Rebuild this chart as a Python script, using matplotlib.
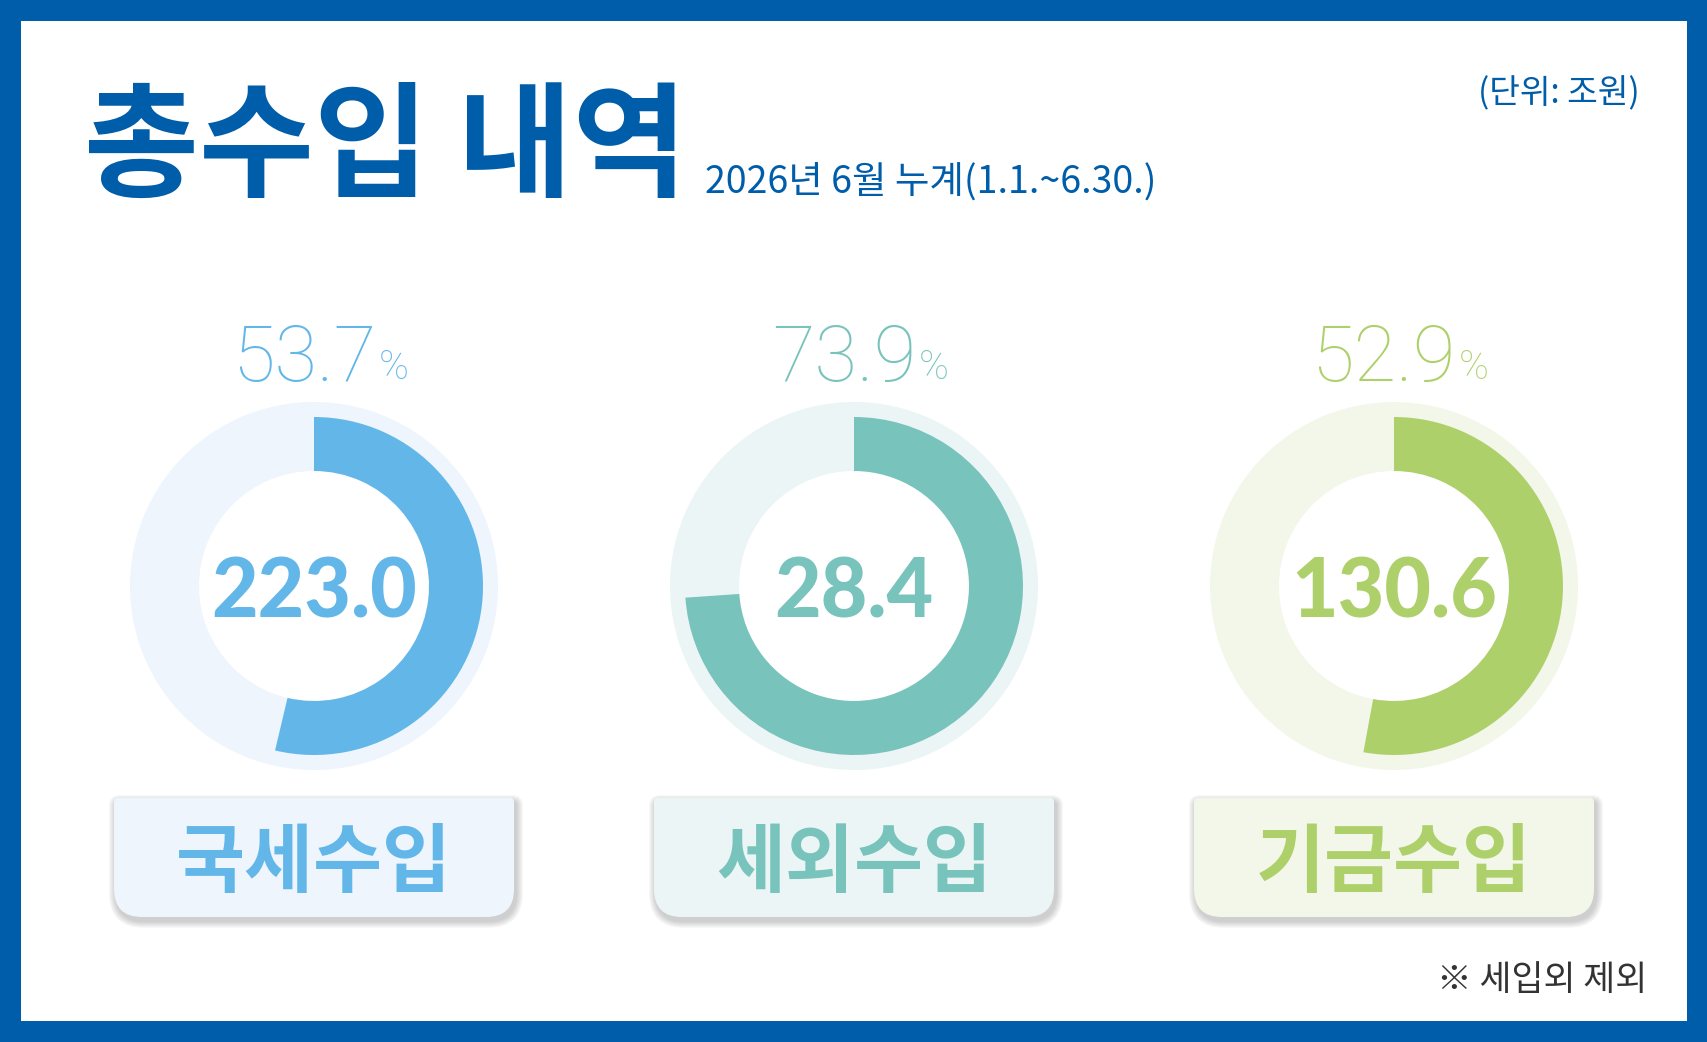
import matplotlib
matplotlib.use("Agg")
import matplotlib.pyplot as plt
from matplotlib.patches import Wedge, Rectangle, PathPatch
from matplotlib.path import Path

plt.rcParams['font.family'] = ['Noto Sans CJK KR', 'DejaVu Sans']

# data
categories = ['국세수입', '세외수입', '기금수입']
amounts = [223.0, 28.4, 130.6]
rates = [53.7, 73.9, 52.9]
title = '총수입 내역'
subtitle = '2026년 6월 누계(1.1.~6.30.)'
unit = '(단위: 조원)'
note = '※ 세입외 제외'

ring_colors = ['#62B7E8', '#78C3BC', '#AED06B']
pale_colors = ['#EEF5FC', '#EBF5F5', '#F2F7EA']
blue = '#005DAA'

W, H = 1708, 1042
fig = plt.figure(figsize=(W / 100, H / 100), dpi=100)
ax = fig.add_axes([0, 0, 1, 1])
ax.set_xlim(0, W)
ax.set_ylim(0, H)
ax.axis('off')


def Y(y):
    # image row -> data y
    return H - y


def box_path(x0, y0, x1, y1, rt, rb):
    # rounded box, small radius on top, large radius at the bottom (image coords)
    pts = [(x0 + rt, y0), (x1 - rt, y0), (x1, y0), (x1, y0 + rt),
           (x1, y1 - rb), (x1, y1), (x1 - rb, y1),
           (x0 + rb, y1), (x0, y1), (x0, y1 - rb),
           (x0, y0 + rt), (x0, y0), (x0 + rt, y0), (x0 + rt, y0)]
    codes = [Path.MOVETO, Path.LINETO, Path.CURVE3, Path.CURVE3,
             Path.LINETO, Path.CURVE3, Path.CURVE3,
             Path.LINETO, Path.CURVE3, Path.CURVE3,
             Path.LINETO, Path.CURVE3, Path.CURVE3, Path.CLOSEPOLY]
    return Path([(x, Y(y)) for x, y in pts], codes)


# frame
bw = 21
ax.add_patch(Rectangle((0, 0), W, H, facecolor=blue, edgecolor='none'))
ax.add_patch(Rectangle((bw, bw), W - 2 * bw, H - 2 * bw, facecolor='white', edgecolor='none'))

# header
ax.text(84, Y(187), title, fontsize=90, fontweight='black', color=blue, va='baseline', ha='left')
ax.text(705, Y(193), subtitle, fontsize=27, fontweight='medium', color=blue, va='baseline', ha='left')
ax.text(1640, Y(103), unit, fontsize=24, fontweight='medium', color=blue, va='baseline', ha='right')
ax.text(1647, Y(990), note, fontsize=25, fontweight='light', color='#333333', va='baseline', ha='right')

cx0, step, cy = 314, 540, 586
r_bg, r_out, r_in = 184, 169, 115
num_font = ['Roboto', 'Lato', 'DejaVu Sans']

for i, (cat, amt, rate) in enumerate(zip(categories, amounts, rates)):
    cx = cx0 + i * step
    col = ring_colors[i]
    pale = pale_colors[i]

    # pale background ring, then achievement arc clockwise from 12 o'clock
    ax.add_patch(Wedge((cx, Y(cy)), r_bg, 0, 360, width=r_bg - r_in, facecolor=pale, edgecolor='none'))
    ax.add_patch(Wedge((cx, Y(cy)), r_out, 90 - 360 * rate / 100, 90, width=r_out - r_in,
                       facecolor=col, edgecolor='none'))

    ax.text(cx + 62, Y(381), '%.1f' % rate, fontsize=56, family=num_font,
            fontweight='light', color=col, ha='right', va='baseline')
    ax.text(cx + 65, Y(379), '%', fontsize=29, family=num_font,
            fontweight='light', color=col, ha='left', va='baseline')
    ax.text(cx, Y(617), '%.1f' % amt, fontsize=58, family=['Lato', 'DejaVu Sans'],
            fontweight='black', color=col, ha='center', va='baseline')

    # label box with soft shadow
    bx0, bx1, by0, by1 = cx - 200, cx + 200, 798, 917
    for k in range(7, 0, -1):
        ax.add_patch(PathPatch(box_path(bx0 + 2 - k, by0 + 4 - k, bx1 + 2 + k, by1 + 4 + k, 4 + k, 28 + k),
                               facecolor='#555555', edgecolor='none', alpha=0.045))
    ax.add_patch(PathPatch(box_path(bx0, by0, bx1, by1, 4, 28), facecolor=pale, edgecolor='none'))
    ax.text(cx, Y(864), cat, fontsize=54, fontweight='black', color=col, ha='center', va='center')

fig.savefig('out.png', dpi=100)
